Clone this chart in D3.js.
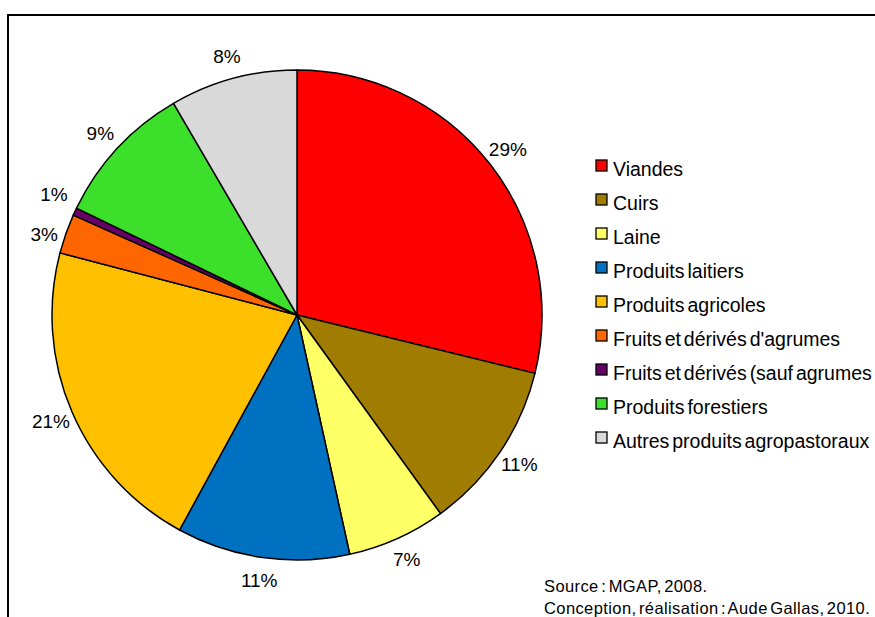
<!DOCTYPE html>
<html>
<head>
<meta charset="utf-8">
<script src="https://cdn.jsdelivr.net/npm/d3@7"></script>
<style>
  body { margin: 0; background: #fff; }
  text { font-family: "Liberation Sans", Arial, sans-serif; fill: #000; }
</style>
</head>
<body>
<div id="chart"></div>
<script>
// data (percent of total)
var categories = ["Viandes", "Cuirs", "Laine", "Produits laitiers", "Produits agricoles",
    "Fruits et dérivés d'agrumes", "Fruits et dérivés (sauf agrumes", "Produits forestiers",
    "Autres produits agropastoraux"];
var values = [28.8, 11.2, 6.5, 11.4, 21.1, 2.6, 0.5, 9.4, 8.4];
var colors = ["#ff0000", "#a07c00", "#ffff66", "#0070c0", "#ffc000",
    "#ff6600", "#660066", "#3ce02a", "#d9d9d9"];
var sourceLines = ["Source : MGAP, 2008.", "Conception, réalisation : Aude Gallas, 2010."];

var width = 875, height = 617,
    cx = 297, cy = 315, radius = 245;

var svg = d3.select("#chart").append("svg")
    .attr("width", width)
    .attr("height", height);

// frame, cut by the window on the right and bottom
svg.append("rect")
    .attr("x", 8).attr("y", 15)
    .attr("width", 1000).attr("height", 1000)
    .attr("fill", "none")
    .attr("stroke", "#000")
    .attr("stroke-width", 2);

var pie = d3.pie().sort(null).value(function(d) { return d; });
var arcs = pie(values);

var arc = d3.arc().innerRadius(0).outerRadius(radius);
var labelArc = d3.arc().innerRadius(268).outerRadius(268);

var g = svg.append("g")
    .attr("transform", "translate(" + cx + "," + cy + ")");

g.selectAll(".slice")
    .data(arcs)
    .enter().append("path")
    .attr("class", "slice")
    .attr("d", arc)
    .attr("fill", function(d, i) { return colors[i]; })
    .attr("stroke", "#000")
    .attr("stroke-width", 1.5)
    .attr("stroke-linejoin", "round");

// label positions, small neighbours pushed apart vertically
var pos = arcs.map(function(d) { return labelArc.centroid(d); });
var minGap = 40;
for (var i = 1; i < pos.length; i++) {
    var a = pos[i - 1], b = pos[i];
    var gap = Math.abs(a[1] - b[1]);
    if (gap < minGap && Math.abs(a[0] - b[0]) < 40) {
        var shift = (minGap - gap) / 2, dir = a[1] < b[1] ? 1 : -1;
        a[1] -= dir * shift;
        b[1] += dir * shift;
    }
}

g.selectAll(".lbl")
    .data(arcs)
    .enter().append("text")
    .attr("class", "lbl")
    .attr("transform", function(d, i) { return "translate(" + pos[i] + ")"; })
    .attr("text-anchor", "middle")
    .attr("dy", "0.35em")
    .style("font-size", "19px")
    .text(function(d) { return Math.round(d.value) + "%"; });

// legend
var legend = svg.append("g")
    .attr("transform", "translate(596,160)");

var item = legend.selectAll(".item")
    .data(categories)
    .enter().append("g")
    .attr("class", "item")
    .attr("transform", function(d, i) { return "translate(0," + (i * 34) + ")"; });

item.append("rect")
    .attr("width", 11).attr("height", 11)
    .attr("fill", function(d, i) { return colors[i]; })
    .attr("stroke", "#000")
    .attr("stroke-width", 1.3);

item.append("text")
    .attr("x", 17)
    .attr("y", 16)
    .style("font-size", "19.5px")
    .style("word-spacing", "-2.5px")
    .text(function(d) { return d; });

// source note
svg.selectAll(".src")
    .data(sourceLines)
    .enter().append("text")
    .attr("class", "src")
    .attr("x", 544)
    .attr("y", function(d, i) { return 592 + i * 22; })
    .style("font-size", "16.5px")
    .style("letter-spacing", "0.4px")
    .style("word-spacing", "-2.5px")
    .text(function(d) { return d; });
</script>
</body>
</html>
